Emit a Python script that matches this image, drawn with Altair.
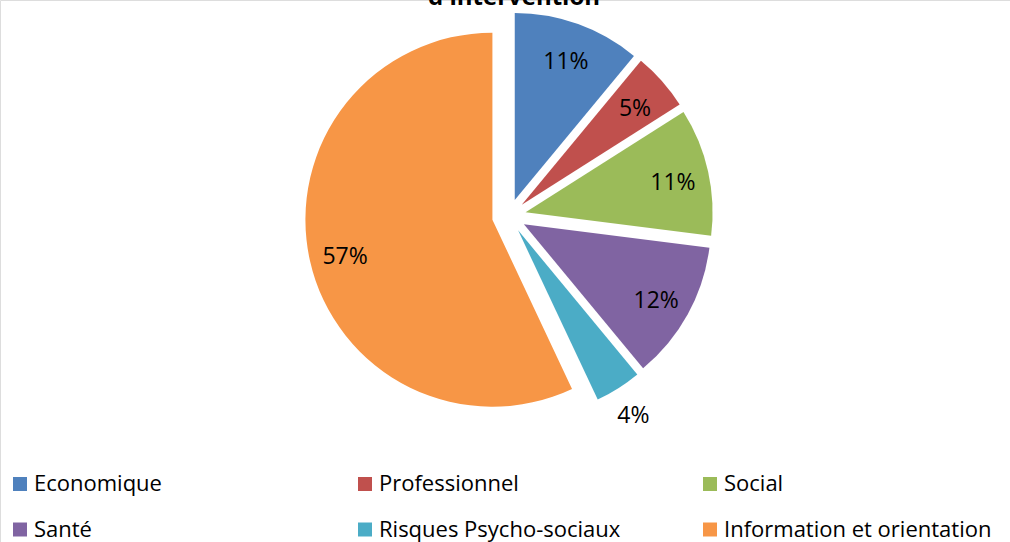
import altair as alt
import pandas as pd

# Répartition des demandes par domaine d'intervention
categories = ["Economique", "Professionnel", "Social", "Santé",
              "Risques Psycho-sociaux", "Information et orientation"]
shares = [11, 5, 11, 12, 4, 57]
colors = ["#4F81BD", "#C0504D", "#9BBB59", "#8064A2", "#4BACC6", "#F79646"]
title_tail = "d'intervention"

W, H = 1010, 542
CX, CY = 509, 216      # pie centre
R = 187                # pie radius
EXPLODE = 17           # radial offset of every slice
LABEL_IN = 151         # label radius for slices large enough to hold text
LABEL_OUT = 215        # label radius for thin slices

df = pd.DataFrame({"cat": categories, "share": shares, "idx": list(range(len(categories)))})

base = (
    alt.Chart(df)
    .transform_window(cum="sum(share)", sort=[alt.SortField("idx")], frame=[None, 0])
    .transform_joinaggregate(total="sum(share)")
    .transform_calculate(
        t0="2*PI*(datum.cum - datum.share)/datum.total",
        t1="2*PI*datum.cum/datum.total",
    )
    .transform_calculate(mid="(datum.t0 + datum.t1)/2")
    .transform_calculate(
        cx=f"{CX} + {EXPLODE}*sin(datum.mid)",
        cy=f"{CY} - {EXPLODE}*cos(datum.mid)",
        lr=f"datum.share < 5 ? {LABEL_OUT} : {LABEL_IN}",
        label="datum.share + '%'",
    )
    .transform_calculate(
        lx="datum.cx + datum.lr*sin(datum.mid)",
        ly="datum.cy - datum.lr*cos(datum.mid)",
    )
)

slices = base.mark_arc(radius=R, stroke=None).encode(
    x=alt.X("cx:Q", scale=None),
    y=alt.Y("cy:Q", scale=None),
    theta=alt.Theta("t0:Q", scale=None),
    theta2="t1:Q",
    color=alt.Color(
        "cat:N",
        scale=alt.Scale(domain=categories, range=colors),
        sort=categories,
        legend=alt.Legend(
            title=None,
            orient="none",
            legendX=9,
            legendY=473,
            direction="horizontal",
            columns=3,
            gridAlign="all",
            columnPadding=52,
            rowPadding=23.5,
            symbolType="square",
            symbolSize=196,
            symbolStrokeWidth=0,
            symbolOffset=0,
            labelOffset=3,
            labelFont="Open Sans",
            labelFontSize=22,
            labelColor="#000000",
            labelLimit=400,
            padding=0,
        ),
    ),
)

labels = base.mark_text(
    font="Open Sans", fontSize=23, color="#000000", align="center", baseline="middle", dy=4
).encode(
    x=alt.X("lx:Q", scale=None),
    y=alt.Y("ly:Q", scale=None),
    text="label:N",
)

title = (
    alt.Chart(pd.DataFrame({"t": [title_tail]}))
    .mark_text(font="Open Sans", fontSize=24, fontWeight="bold", color="#000000",
               align="center", baseline="alphabetic")
    .encode(x=alt.value(514), y=alt.value(5), text="t:N")
)

chart = (
    alt.layer(slices, labels, title)
    .properties(width=W, height=H, padding=0,
                autosize=alt.AutoSizeParams(type="none"))
    .configure_view(stroke=None)
    .configure(background="#FFFFFF")
)

chart.save("out.html", embed_options={"renderer": "svg", "actions": False})
